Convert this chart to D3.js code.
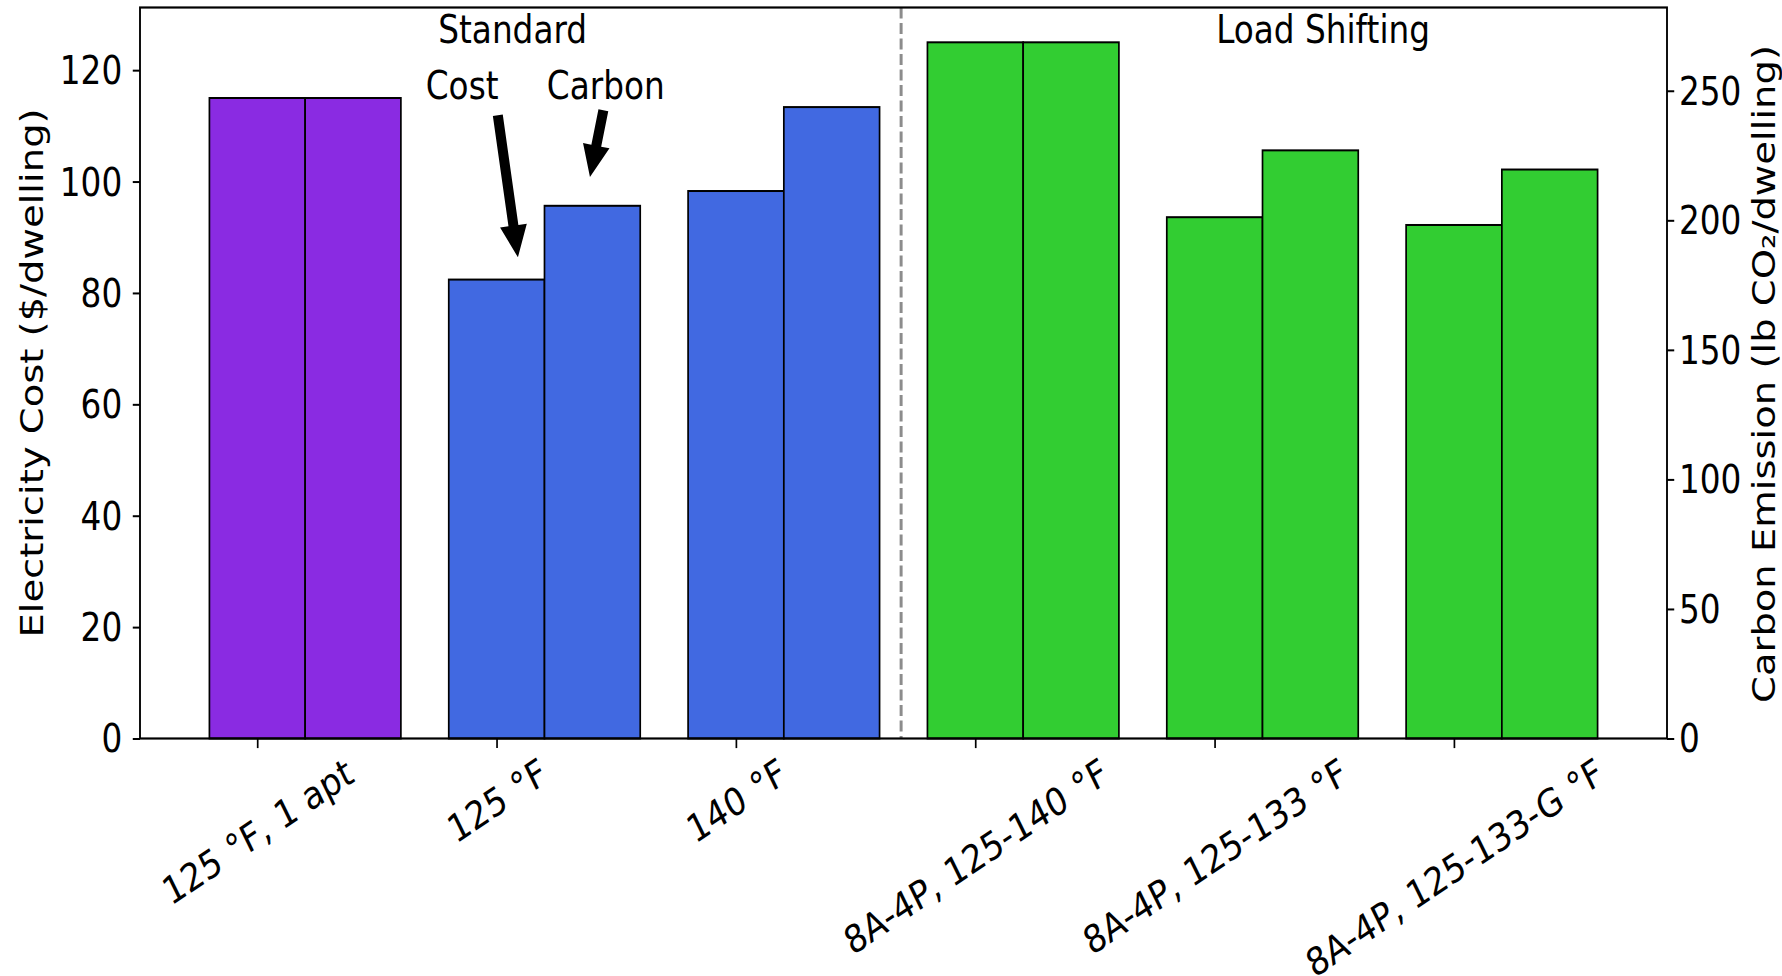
<!DOCTYPE html>
<html><head><meta charset="utf-8">
<script src="https://cdn.jsdelivr.net/npm/d3@7"></script>
<style>html,body{margin:0;padding:0;background:#fff;overflow:hidden}</style>
</head><body><svg id="chart" width="1782" height="976"></svg>
<script>
// ---- data ----
const categories = ["125 °F, 1 apt", "125 °F", "140 °F", "8A-4P, 125-140 °F", "8A-4P, 125-133 °F", "8A-4P, 125-133-G °F"];
const costValues = [115.0, 82.4, 98.3, 125.0, 93.6, 92.2];
const carbonValues = [247.2, 205.6, 243.7, 268.7, 227.0, 219.6];
const groupColors = ["#8A2BE2", "#4169E1", "#4169E1", "#32CD32", "#32CD32", "#32CD32"];
const costTicks = [0, 20, 40, 60, 80, 100, 120];
const carbonTicks = [0, 50, 100, 150, 200, 250];
const leftLabel = "Electricity Cost ($/dwelling)";
const rightLabel = "Carbon Emission (lb CO\u2082/dwelling)";

// ---- layout ----
const SX = 0.85;               // horizontal squeeze of the reference image
const FS = 38.5;
const FONT = "DejaVu Sans";
const plot = {left: 140 / SX, right: 1667 / SX, top: 7.5, bottom: 738.5};
const barW = 0.4;
const annotations = [
  {text: "Standard", x: 1.067, y: 124.8},
  {text: "Load Shifting", x: 4.453, y: 124.9},
  {text: "Cost", x: 0.856, y: 114.9},
  {text: "Carbon", x: 1.456, y: 114.9}
];
const arrows = [
  {from: [1.005, 111.9], to: [1.089, 86.4]},
  {from: [1.446, 112.8], to: [1.39, 100.8]}
];
const dividerX = 2.69;

const lo = -barW / 2, hi = categories.length - 1 + barW * 1.5;
const m = 0.05 * (hi - lo);
const x = d3.scaleLinear().domain([lo - m, hi + m]).range([plot.left, plot.right]);
const yL = d3.scaleLinear().domain([0, d3.max(costValues) * 1.05]).range([plot.bottom, plot.top]);
const yR = d3.scaleLinear().domain([0, d3.max(carbonValues) * 1.05]).range([plot.bottom, plot.top]);

const svg = d3.select("#chart");
svg.append("rect").attr("width", 1782).attr("height", 976).attr("fill", "#fff");
const g = svg.append("g").attr("transform", `scale(${SX},1)`);

// bars
g.append("g").selectAll("rect").data(costValues).join("rect")
  .attr("x", (d, i) => x(i - barW / 2)).attr("width", (d, i) => x(i + barW / 2) - x(i - barW / 2))
  .attr("y", d => yL(d)).attr("height", d => yL(0) - yL(d))
  .attr("fill", (d, i) => groupColors[i]).attr("stroke", "#000").attr("stroke-width", 2);
g.append("g").selectAll("rect").data(carbonValues).join("rect")
  .attr("x", (d, i) => x(i + barW / 2)).attr("width", (d, i) => x(i + barW * 1.5) - x(i + barW / 2))
  .attr("y", d => yR(d)).attr("height", d => yR(0) - yR(d))
  .attr("fill", (d, i) => groupColors[i]).attr("stroke", "#000").attr("stroke-width", 2);

// divider
g.append("line").attr("x1", x(dividerX)).attr("x2", x(dividerX))
  .attr("y1", plot.top).attr("y2", plot.bottom)
  .attr("stroke", "#8c8c8c").attr("stroke-width", 3.5).attr("stroke-dasharray", "11,4.5");

// axes
function styleAxis(sel) {
  sel.attr("font-size", FS).attr("font-family", FONT);
  sel.select(".domain").remove();
  sel.selectAll(".tick line").attr("stroke", "#000").attr("stroke-width", 2);
  sel.selectAll(".tick text").attr("fill", "#000");
}
const gL = g.append("g").attr("transform", `translate(${plot.left},0)`)
  .call(d3.axisLeft(yL).tickValues(costTicks).tickSize(8.5).tickPadding(12.4).tickSizeOuter(0));
styleAxis(gL); gL.selectAll(".tick text").attr("dy", "0.35em");
const gR = g.append("g").attr("transform", `translate(${plot.right},0)`)
  .call(d3.axisRight(yR).tickValues(carbonTicks).tickSize(8.5).tickPadding(5.6).tickSizeOuter(0));
styleAxis(gR); gR.selectAll(".tick text").attr("dy", "0.35em");
const tickB = 9.6, padB = 1.5;
const gB = g.append("g").attr("transform", `translate(0,${plot.bottom})`)
  .call(d3.axisBottom(x).tickValues(d3.range(categories.length)).tickFormat(i => categories[i]).tickSize(tickB).tickSizeOuter(0));
styleAxis(gB);
gB.selectAll(".tick text").each(function () {
  const t = d3.select(this);
  const w = this.getComputedTextLength();
  const h = 1.164 * FS, a = 30 * Math.PI / 180;
  const bh = w * Math.sin(a) + h * Math.cos(a);
  t.attr("y", null).attr("x", null).attr("dy", "0.35em").attr("text-anchor", "middle")
   .attr("transform", `translate(0,${tickB + padB + bh / 2}) rotate(-30)`);
});

// spines
g.append("rect").attr("x", plot.left).attr("y", plot.top)
  .attr("width", plot.right - plot.left).attr("height", plot.bottom - plot.top)
  .attr("fill", "none").attr("stroke", "#000").attr("stroke-width", 2.2);

// axis labels
const midY = (plot.top + plot.bottom) / 2;
g.append("text").attr("transform", `translate(${43.3 / SX},${midY}) rotate(-90)`)
  .attr("text-anchor", "middle").attr("font-family", FONT).attr("font-size", FS).text(leftLabel);
g.append("text").attr("transform", `translate(${1775 / SX},${midY + 1}) rotate(-90)`)
  .attr("text-anchor", "middle").attr("font-family", FONT).attr("font-size", FS).text(rightLabel);

// annotations
g.append("g").selectAll("text").data(annotations).join("text")
  .attr("x", d => x(d.x)).attr("y", d => yL(d.y))
  .attr("text-anchor", "middle").attr("font-family", FONT).attr("font-size", FS).text(d => d.text);

// arrows (screen coordinates)
const sw = 10, hw = 27, hl = 32;
svg.append("g").selectAll("path").data(arrows).join("path")
  .attr("d", d => {
    const x0 = x(d.from[0]) * SX, y0 = yL(d.from[1]);
    const x1 = x(d.to[0]) * SX, y1 = yL(d.to[1]);
    const L = Math.hypot(x1 - x0, y1 - y0);
    const ux = (x1 - x0) / L, uy = (y1 - y0) / L;
    const nx = -uy, ny = ux;
    const bx = x1 - ux * hl, by = y1 - uy * hl;
    const p = [
      [x0 + nx * sw / 2, y0 + ny * sw / 2], [bx + nx * sw / 2, by + ny * sw / 2],
      [bx + nx * hw / 2, by + ny * hw / 2], [x1, y1],
      [bx - nx * hw / 2, by - ny * hw / 2], [bx - nx * sw / 2, by - ny * sw / 2],
      [x0 - nx * sw / 2, y0 - ny * sw / 2]
    ];
    return "M" + p.map(q => q.join(",")).join("L") + "Z";
  })
  .attr("fill", "#000");
</script></body></html>
